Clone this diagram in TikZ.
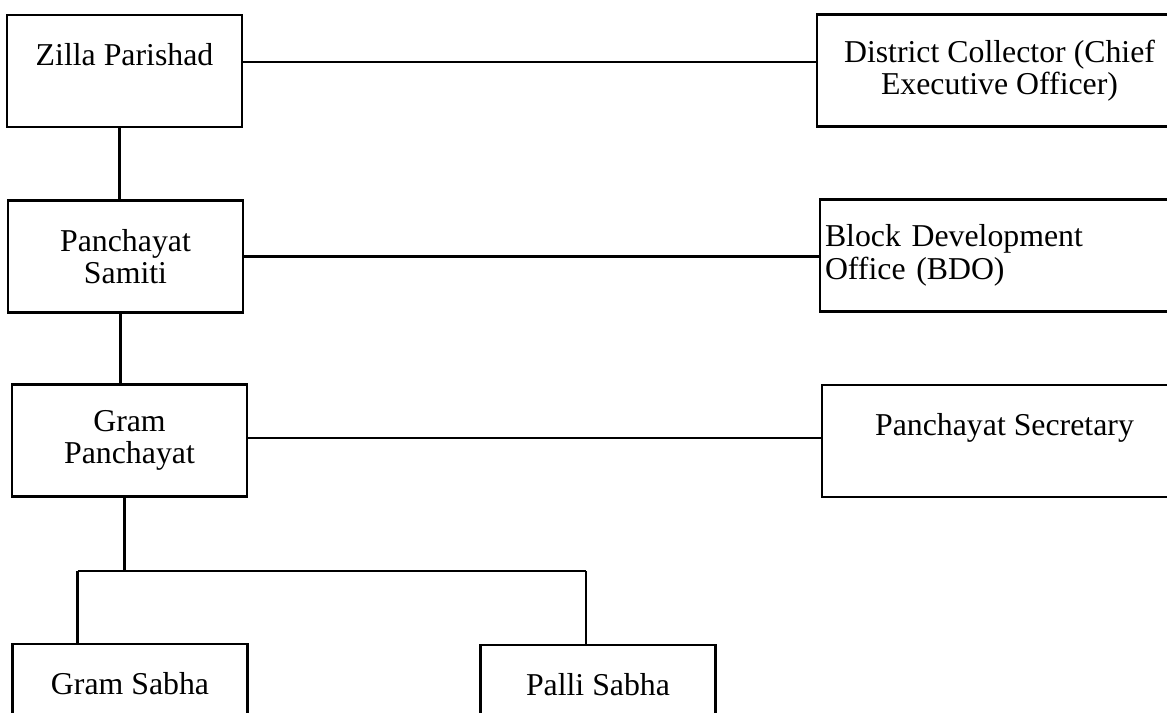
\documentclass[tikz,border=0pt]{standalone}
\usepackage{fontspec}
\setmainfont{Liberation Serif}

\begin{document}
\begin{tikzpicture}[
  unit/.style={draw, line width=1.3pt, minimum width=4.7cm, minimum height=2.24cm, align=center},
  office/.style={unit, minimum width=7.3cm},
  link/.style={line width=1.3pt}]
\useasboundingbox (0,0) rectangle (23.34,-14.26);
\clip (0,0) rectangle (23.34,-14.26);
\fontsize{18.1}{18.4}\selectfont

\node (zp) at (2.49,-1.42) [unit]{Zilla Parishad\\~};
\node (ps) at (2.51,-5.13) [unit]{Panchayat\\Samiti};
\node (gp) at (2.59,-8.81) [unit]{Gram\\Panchayat};

\node (gs) at (2.60,-14.00) [unit]{Gram Sabha\\~};
\node (pl) at (11.96,-14.02) [unit]{Palli Sabha\\~};

\node (dc) at (19.99,-1.41) [office]{District Collector (Chief\\Executive Officer)};
\node (bdo) at (20.05,-5.11) [office, text width=7.1cm, inner xsep=0.1cm, align=left]{Block Development\\Office (BDO)};
\node (sec) at (20.09,-8.82) [office]{Panchayat Secretary\\~};

\coordinate (split) at (2.46,-11.42);
\coordinate (gs-in) at (1.55,-11.42);
\coordinate (pl-in) at (11.72,-11.42);

% the line of command
\draw [link] ([xshift=-0.1cm]zp.south) -- ([xshift=-0.1cm]zp.south |- ps.north);
\draw [link] ([xshift=-0.1cm]ps.south) -- ([xshift=-0.1cm]ps.south |- gp.north);
\draw [link] ([xshift=-0.1cm]gp.south) -- ([xshift=-0.1cm]gp.south |- split);
\draw [link] (gs-in) -- (pl-in);
\draw [link] (gs-in) -- (gs-in |- gs.north);
\draw [link] (pl-in) -- (pl-in |- pl.north);

% officers
\draw [link] ([yshift=0.18cm]zp.east) -- ([yshift=0.18cm]zp.east -| dc.west);
\draw [link] (ps.east) -- (ps.east -| bdo.west);
\draw [link] ([yshift=0.05cm]gp.east) -- ([yshift=0.05cm]gp.east -| sec.west);

\end{tikzpicture}
\end{document}
